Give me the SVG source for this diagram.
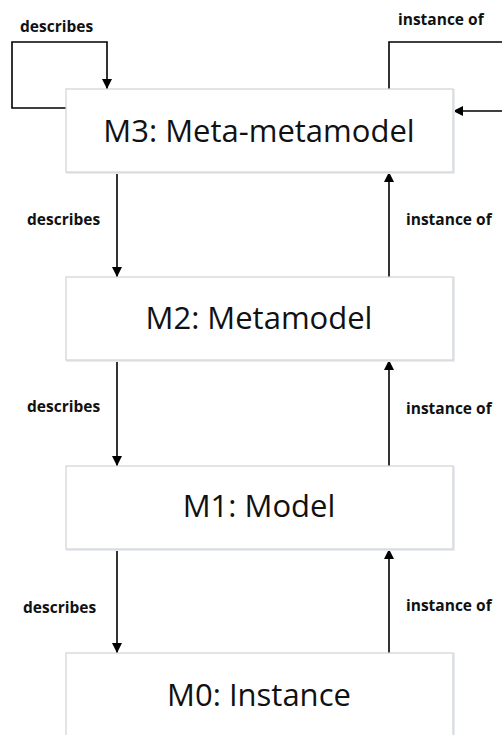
<svg xmlns="http://www.w3.org/2000/svg" width="502" height="735" viewBox="0 0 502 735">
<style>
.box{fill:#ffffff;stroke:#d2d2d2;stroke-width:1.2}
.shadow{fill:none;stroke:#e6ecf2;stroke-width:2}
.title{font-family:"Open Sans","Liberation Sans",sans-serif;font-size:31px;fill:#111;text-anchor:middle}
.lbl{font-family:"Open Sans","Liberation Sans",sans-serif;font-size:15.5px;font-weight:bold;fill:#111}
.conn{fill:none;stroke:#000;stroke-width:1.6}
</style>
<defs>
<marker id="ah" viewBox="0 0 10 10" refX="10" refY="5" markerWidth="10" markerHeight="10" markerUnits="userSpaceOnUse" orient="auto">
<path d="M0,0 L10,5 L0,10 Z" fill="#000"/>
</marker>
</defs>
<rect width="502" height="735" fill="#fff"/>
<g id="connectors">
<path class="conn" d="M66,108 H12 V42 H107 V89" marker-end="url(#ah)"/>
<path class="conn" d="M389,89 V42 H503 V111 H453" marker-end="url(#ah)"/>
<path class="conn" d="M117,172 V277" marker-end="url(#ah)"/>
<path class="conn" d="M389,277 V172" marker-end="url(#ah)"/>
<path class="conn" d="M117,360 V466" marker-end="url(#ah)"/>
<path class="conn" d="M389,466 V360" marker-end="url(#ah)"/>
<path class="conn" d="M117,549 V653" marker-end="url(#ah)"/>
<path class="conn" d="M389,653 V549" marker-end="url(#ah)"/>
</g>
<g id="labels">
<text class="lbl" x="20" y="32">describes</text>
<text class="lbl" x="398" y="25">instance of</text>
<text class="lbl" x="27" y="225">describes</text>
<text class="lbl" x="406" y="225">instance of</text>
<text class="lbl" x="27" y="412">describes</text>
<text class="lbl" x="406" y="414">instance of</text>
<text class="lbl" x="23" y="613">describes</text>
<text class="lbl" x="406" y="611">instance of</text>
</g>
<g id="m3">
<rect class="shadow" x="67" y="90" width="387" height="83"/>
<rect class="box" x="66" y="89" width="387" height="83"/>
<text class="title" x="259" y="142">M3: Meta-metamodel</text>
</g>
<g id="m2">
<rect class="shadow" x="67" y="278" width="387" height="83"/>
<rect class="box" x="66" y="277" width="387" height="83"/>
<text class="title" x="259" y="329">M2: Metamodel</text>
</g>
<g id="m1">
<rect class="shadow" x="67" y="467" width="387" height="83"/>
<rect class="box" x="66" y="466" width="387" height="83"/>
<text class="title" x="259" y="517">M1: Model</text>
</g>
<g id="m0">
<rect class="shadow" x="67" y="654" width="387" height="83"/>
<rect class="box" x="66" y="653" width="387" height="83"/>
<text class="title" x="259" y="706">M0: Instance</text>
</g>
</svg>
